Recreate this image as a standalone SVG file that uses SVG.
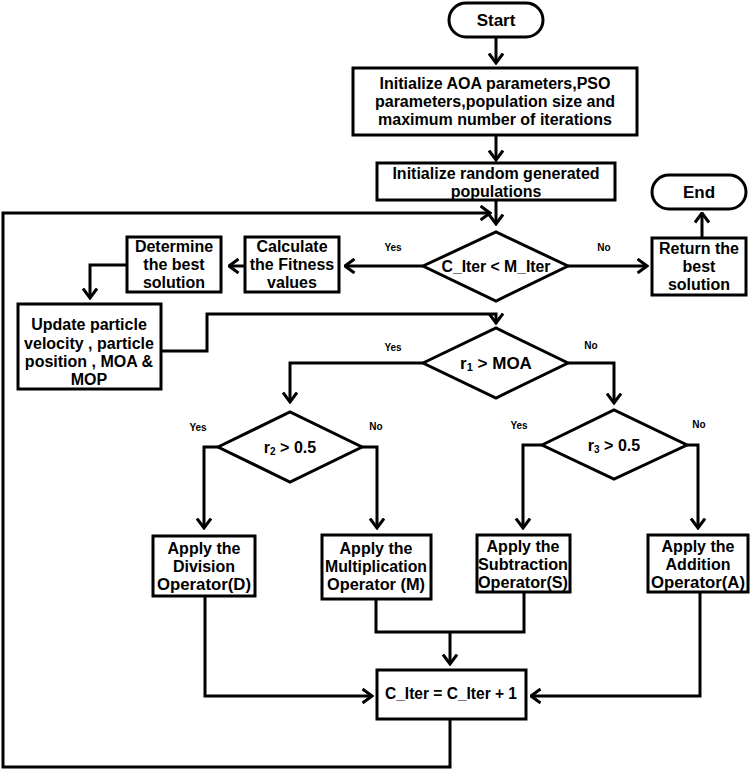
<svg xmlns="http://www.w3.org/2000/svg" width="753" height="770" viewBox="0 0 753 770">
<style>
.b{fill:#fff;stroke:#000;stroke-width:3}
.t{font-family:"Liberation Sans",Arial,sans-serif;font-weight:bold;font-size:16px;fill:#000;text-anchor:middle;dominant-baseline:central}
.l{font-family:"Liberation Sans",Arial,sans-serif;font-weight:bold;font-size:10px;fill:#000;text-anchor:middle;dominant-baseline:central}
.c{fill:none;stroke:#000;stroke-width:3}
</style>
<defs>
<marker id="ah" viewBox="0 0 12 16" refX="10.5" refY="8" markerWidth="12" markerHeight="16" markerUnits="userSpaceOnUse" orient="auto">
<path d="M1,1 L10.5,8 L1,15" fill="none" stroke="#000" stroke-width="3"/>
</marker>
</defs>
<rect width="753" height="770" fill="#fff"/>
<g id="connectors">
<path class="c" d="M496,37 V63" marker-end="url(#ah)"/>
<path class="c" d="M496,135 V160" marker-end="url(#ah)"/>
<path class="c" d="M496,200 V224" marker-end="url(#ah)"/>
<path class="c" d="M450,719 V767 H3 V213 H490" marker-end="url(#ah)"/>
<path class="c" d="M568,266 H647" marker-end="url(#ah)"/>
<path class="c" d="M702,238 V213" marker-end="url(#ah)"/>
<path class="c" d="M423,266 H345" marker-end="url(#ah)"/>
<path class="c" d="M245,266 H229" marker-end="url(#ah)"/>
<path class="c" d="M127,265 H90 V298" marker-end="url(#ah)"/>
<path class="c" d="M161,351 H207 V314 H496 V323" marker-end="url(#ah)"/>
<path class="c" d="M423,363 H290 V402" marker-end="url(#ah)"/>
<path class="c" d="M568,363 H614 V403" marker-end="url(#ah)"/>
<path class="c" d="M218,447 H204 V528" marker-end="url(#ah)"/>
<path class="c" d="M362,447 H377 V528" marker-end="url(#ah)"/>
<path class="c" d="M542,445 H523 V528" marker-end="url(#ah)"/>
<path class="c" d="M687,445 H698 V528" marker-end="url(#ah)"/>
<path class="c" d="M205,596 V696 H372" marker-end="url(#ah)"/>
<path class="c" d="M376,599 V632 H524 V592"/>
<path class="c" d="M450,632 V664" marker-end="url(#ah)"/>
<path class="c" d="M700,592 V696 H531" marker-end="url(#ah)"/>
<text class="l" x="393" y="247">Yes</text>
<text class="l" x="604" y="247">No</text>
<text class="l" x="393" y="347">Yes</text>
<text class="l" x="591" y="345">No</text>
<text class="l" x="198" y="427">Yes</text>
<text class="l" x="376" y="426">No</text>
<text class="l" x="519" y="425">Yes</text>
<text class="l" x="699" y="424">No</text>
</g>
<g id="start"><rect class="b" x="449" y="3" width="94" height="34" rx="17"/><text class="t" x="496" y="20" style="font-size:17px">Start</text></g>
<g id="init-params"><rect class="b" x="353" y="68" width="284" height="67"/>
<text class="t" x="495" y="83">Initialize AOA parameters,PSO</text>
<text class="t" x="495" y="101">parameters,population size and</text>
<text class="t" x="495" y="119">maximum number of iterations</text></g>
<g id="init-pop"><rect class="b" x="377" y="163" width="238" height="37"/>
<text class="t" x="496" y="173">Initialize random generated</text>
<text class="t" x="496" y="191">populations</text></g>
<g id="end"><rect class="b" x="652" y="175" width="94" height="34" rx="17"/><text class="t" x="699" y="192" style="font-size:17px">End</text></g>
<g id="cond-iter"><polygon class="b" points="423,266 496,232 568,266 496,301"/><text class="t" x="496" y="266" style="font-size:17px" textLength="109" lengthAdjust="spacingAndGlyphs">C_Iter &lt; M_Iter</text></g>
<g id="return"><rect class="b" x="652" y="238" width="94" height="57"/>
<text class="t" x="699" y="248">Return the</text>
<text class="t" x="699" y="266">best</text>
<text class="t" x="699" y="284">solution</text></g>
<g id="fitness"><rect class="b" x="245" y="237" width="94" height="55"/>
<text class="t" x="292" y="246">Calculate</text>
<text class="t" x="292" y="264">the Fitness</text>
<text class="t" x="292" y="282">values</text></g>
<g id="best"><rect class="b" x="127" y="237" width="94" height="55"/>
<text class="t" x="174" y="246">Determine</text>
<text class="t" x="174" y="264">the best</text>
<text class="t" x="174" y="282">solution</text></g>
<g id="update"><rect class="b" x="18" y="304" width="143" height="85"/>
<text class="t" x="89" y="324">Update particle</text>
<text class="t" x="89" y="343">velocity , particle</text>
<text class="t" x="89" y="361">position , MOA &amp;</text>
<text class="t" x="89" y="379">MOP</text></g>
<g id="cond-r1"><polygon class="b" points="423,363 496,328 568,363 496,398"/><text class="t" x="496" y="363" style="font-size:17px">r<tspan dy="4" style="font-size:11px">1</tspan><tspan dy="-4"> &gt; MOA</tspan></text></g>
<g id="cond-r2"><polygon class="b" points="218,447 290,412 362,447 290,482"/><text class="t" x="290" y="447" style="font-size:16px">r<tspan dy="4" style="font-size:10px">2</tspan><tspan dy="-4"> &gt; 0.5</tspan></text></g>
<g id="cond-r3"><polygon class="b" points="542,445 614,410 687,445 614,479"/><text class="t" x="614" y="445" style="font-size:16px">r<tspan dy="4" style="font-size:10px">3</tspan><tspan dy="-4"> &gt; 0.5</tspan></text></g>
<g id="division"><rect class="b" x="153" y="536" width="102" height="60"/>
<text class="t" x="204" y="548">Apply the</text>
<text class="t" x="204" y="566">Division</text>
<text class="t" x="204" y="584" textLength="94" lengthAdjust="spacingAndGlyphs">Operator(D)</text></g>
<g id="multiplication"><rect class="b" x="322" y="535" width="109" height="64"/>
<text class="t" x="376" y="548">Apply the</text>
<text class="t" x="376" y="566" textLength="102" lengthAdjust="spacingAndGlyphs">Multiplication</text>
<text class="t" x="376" y="584" textLength="98" lengthAdjust="spacingAndGlyphs">Operator (M)</text></g>
<g id="subtraction"><rect class="b" x="477" y="535" width="93" height="57"/>
<text class="t" x="523" y="546">Apply the</text>
<text class="t" x="523" y="564" textLength="90" lengthAdjust="spacingAndGlyphs">Subtraction</text>
<text class="t" x="523" y="582" textLength="90" lengthAdjust="spacingAndGlyphs">Operator(S)</text></g>
<g id="addition"><rect class="b" x="648" y="535" width="100" height="57"/>
<text class="t" x="698" y="546">Apply the</text>
<text class="t" x="698" y="564">Addition</text>
<text class="t" x="698" y="582" textLength="94" lengthAdjust="spacingAndGlyphs">Operator(A)</text></g>
<g id="increment"><rect class="b" x="377" y="670" width="149" height="49"/><text class="t" x="451" y="693" style="font-size:17px" textLength="132" lengthAdjust="spacingAndGlyphs">C_Iter = C_Iter + 1</text></g>
</svg>
